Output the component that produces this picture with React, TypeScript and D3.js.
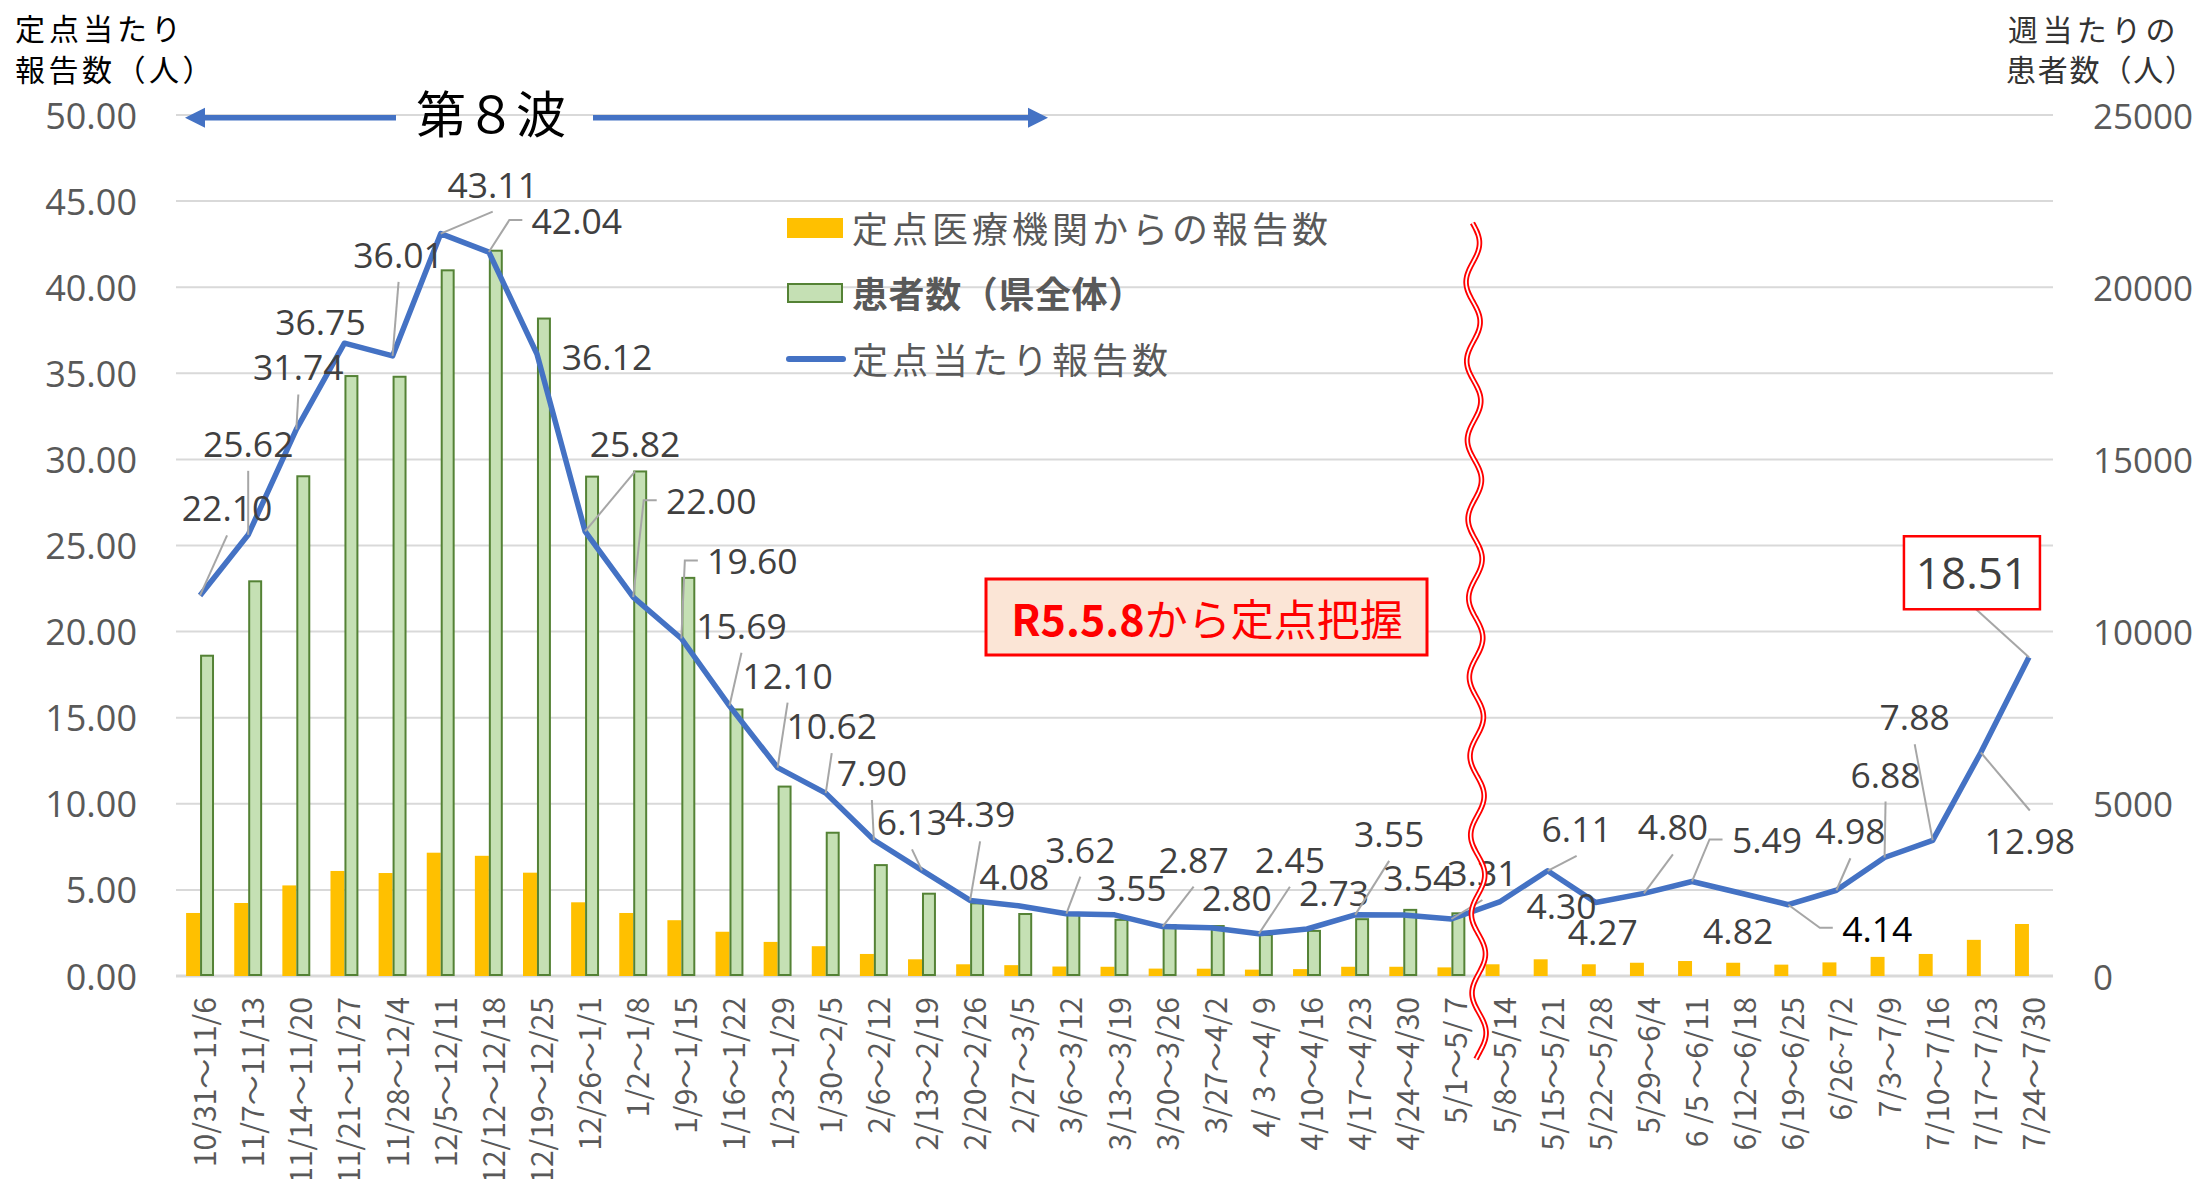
import * as d3 from "d3";

// weekly periods (R4.10.31 - R5.7.30)
const categories = [
  "10/31～11/6", "11/7～11/13", "11/14～11/20", "11/21～11/27", "11/28～12/4",
  "12/5～12/11", "12/12～12/18", "12/19～12/25", "12/26～1/1", "1/2～1/8",
  "1/9～1/15", "1/16～1/22", "1/23～1/29", "1/30～2/5", "2/6～2/12",
  "2/13～2/19", "2/20～2/26", "2/27～3/5", "3/6～3/12", "3/13～3/19",
  "3/20～3/26", "3/27～4/2", "4/ 3 ～4/ 9", "4/10～4/16", "4/17～4/23",
  "4/24～4/30", "5/1～5/ 7", "5/8～5/14", "5/15～5/21", "5/22～5/28",
  "5/29～6/4", "6 /5 ～6/11", "6/12～6/18", "6/19～6/25", "6/26~7/2",
  "7/3～7/9", "7/10～7/16", "7/17～7/23", "7/24～7/30",
];

// 定点当たり報告数 (left axis)
const perSentinel = [
  22.10, 25.62, 31.74, 36.75, 36.01, 43.11, 42.04, 36.12, 25.82, 22.00,
  19.60, 15.69, 12.10, 10.62, 7.90, 6.13, 4.39, 4.08, 3.62, 3.55,
  2.87, 2.80, 2.45, 2.73, 3.55, 3.54, 3.31, 4.30, 6.11, 4.27,
  4.80, 5.49, 4.82, 4.14, 4.98, 6.88, 7.88, 12.98, 18.51,
];

// 定点医療機関からの報告数 (right axis)
const sentinelReports = [
  1830, 2120, 2630, 3050, 2990, 3580, 3490, 3000, 2140, 1830,
  1620, 1285, 990, 865, 640, 485, 340, 315, 275, 268,
  215, 212, 185, 200, 268, 268, 250, 340, 485, 340,
  385, 435, 385, 330, 395, 555, 640, 1050, 1510,
];

// 患者数（県全体） (right axis) - only until 5/7
const patientsAll = [
  9300, 11460, 14510, 17420, 17400, 20490, 21060, 19090, 14500, 14650,
  11560, 7740, 5500, 4160, 3220, 2390, 2110, 1800, 1770, 1630,
  1480, 1450, 1190, 1310, 1650, 1920, 1820,
];

const leftTicks = d3.range(0, 50.01, 5);
const rightTicks = d3.range(0, 25001, 5000);

// data label placement relative to its point: [dx, dy, leader]
// leader: b = to label bottom, t = to label top, l = elbow to label left, "" = none
const labelOffsets: [number, number, string][] = [
  [27, -88, "b"], [0, -92, "b"], [2, -63, "b"], [-24, -22, ""], [6, -102, "b"],
  [52, -50, "b"], [88, -32, "l"], [70, 2, ""], [50, -88, "b"], [78, -97, "l"],
  [71, -78, "l"], [12, -81, "b"], [10, -93, "b"], [6, -68, "b"], [-2, -68, "b"],
  [-10, -49, "b"], [10, -87, "b"], [-4, -30, ""], [14, -65, "b"], [17, -28, ""],
  [31, -68, "b"], [26, -31, ""], [31, -75, "b"], [27, -37, ""], [34, -82, "b"],
  [15, -38, ""], [31, -47, "b"], [62, 3, ""], [29, -43, "b"], [7, 29, ""],
  [29, -67, "b"], [75, -42, "l"], [-2, 37, ""], [89, 23, "l"], [14, -60, "b"],
  [1, -84, "b"], [-18, -124, "b"], [49, 88, "t"], [-57, -85, "box"],
];

const W = 2197;
const H = 1179;
const plot = { left: 176, right: 2053, top: 115, bottom: 976 };

const NUM_FONT = "'Open Sans', 'Noto Sans', sans-serif";
const JP_FONT = "'Noto Sans CJK JP', 'Noto Sans', sans-serif";

export default function App() {
  const x = d3.scaleBand<string>()
    .domain(categories)
    .range([plot.left, plot.right])
    .paddingInner(0.42)
    .paddingOuter(0.21);
  const x1 = d3.scaleBand<string>().domain(["reports", "patients"]).range([0, x.bandwidth()]);
  const yL = d3.scaleLinear().domain([0, 50]).range([plot.bottom, plot.top]);
  const yR = d3.scaleLinear().domain([0, 25000]).range([plot.bottom, plot.top]);
  const cx = (c: string) => (x(c) as number) + x.bandwidth() / 2;

  const linePath = d3.line<number>()
    .x((_, i) => cx(categories[i]))
    .y((d) => yL(d))(perSentinel) as string;

  const fmt = d3.format(".2f");

  // wavy break line between 5/1 and 5/8
  const breakX = (cx(categories[26]) + cx(categories[27])) / 2;
  const waveTop = 223;
  const waveBottom = 1060;
  const wave = d3.line<number>()
    .x((y) => breakX - 3 + ((y - waveTop) / (waveBottom - waveTop)) * 7 + 7 * Math.sin(((y - waveTop) / 79) * 2 * Math.PI))
    .y((y) => y)
    .curve(d3.curveBasis)(d3.range(waveTop, waveBottom + 1, 4)) as string;

  const labelW = (s: string) => s.replace(".", "").length * 20 + 9;

  return (
    <svg width={W} height={H} style={{ position: "absolute", left: 0, top: 0, display: "block", background: "#fff" }}>
      {/* gridlines + axes */}
      {leftTicks.map((t) => (
        <line key={"g" + t} x1={plot.left} x2={plot.right} y1={yL(t)} y2={yL(t)}
          stroke="#D9D9D9" strokeWidth={t === 0 ? 3 : 2} />
      ))}
      {leftTicks.map((t) => (
        <text key={"l" + t} x={137} y={yL(t)} textAnchor="end" dominantBaseline="central"
          fontFamily={NUM_FONT} fontSize={36} fill="#595959">{fmt(t)}</text>
      ))}
      {rightTicks.map((t) => (
        <text key={"r" + t} x={2093} y={yR(t)} textAnchor="start" dominantBaseline="central"
          fontFamily={NUM_FONT} fontSize={35} fill="#595959">{t}</text>
      ))}

      {/* axis titles */}
      <g fontFamily={JP_FONT} fontSize={30} fill="#000">
        <text x={15} y={27} dominantBaseline="central" letterSpacing={4}>定点当たり</text>
        <text x={15} y={68} dominantBaseline="central" letterSpacing={3.5}>報告数（人）</text>
      </g>
      <g fontFamily={JP_FONT} fontSize={30} fill="#333">
        <text x={2008} y={28} dominantBaseline="central" letterSpacing={4.4}>週当たりの</text>
        <text x={2006} y={68} dominantBaseline="central" letterSpacing={1.8}>患者数（人）</text>
      </g>

      {/* x labels */}
      {categories.map((c) => (
        <text key={"x" + c} transform={`translate(${cx(c) + 3},997) rotate(-90)`} textAnchor="end"
          dominantBaseline="central" fontFamily={JP_FONT} fontSize={30} fill="#595959">{c}</text>
      ))}

      {/* bars */}
      {sentinelReports.map((v, i) => (
        <rect key={"o" + i} x={(x(categories[i]) as number) + (x1("reports") as number)} y={yR(v)}
          width={x1.bandwidth()} height={yR(0) - yR(v)} fill="#FFC000" />
      ))}
      {patientsAll.map((v, i) => (
        <rect key={"p" + i} x={(x(categories[i]) as number) + (x1("patients") as number) + 1} y={yR(v)}
          width={x1.bandwidth() - 2} height={yR(0) - yR(v) - 1} fill="#C5E0B4" stroke="#548235" strokeWidth={2} />
      ))}

      {/* line */}
      <path d={linePath} fill="none" stroke="#4472C4" strokeWidth={5.5} strokeLinejoin="round" />

      {/* data labels */}
      {perSentinel.map((v, i) => {
        const px = cx(categories[i]);
        const py = yL(v);
        const [dx, dy, lead] = labelOffsets[i];
        const lx = px + dx;
        const ly = py + dy;
        const s = fmt(v);
        const isBox = lead === "box";
        const hw = labelW(s) / 2;
        let leader: string | null = null;
        if (lead === "b") leader = `M${px},${py}L${lx},${ly + 28}`;
        if (lead === "t") leader = `M${px},${py}L${lx},${ly - 30}`;
        if (lead === "box") leader = `M${px},${py}L${lx + 3},${ly + 36}`;
        if (lead === "l") leader = `M${px},${py}L${lx - hw - 23},${ly}L${lx - hw - 10},${ly}`;
        return (
          <g key={"d" + i}>
            {leader && <path d={leader} fill="none" stroke="#A6A6A6" strokeWidth={2} />}
            {isBox && (
              <rect x={lx - 68} y={ly - 36} width={136} height={73} fill="#fff" stroke="#FF0000" strokeWidth={2.5} />
            )}
            <text x={lx} y={ly} textAnchor="middle" dominantBaseline="central"
              fontFamily={NUM_FONT} fontSize={isBox ? 44 : 35.5}
              fill={i === 33 ? "#000" : "#404040"}>{s}</text>
          </g>
        );
      })}

      {/* legend */}
      <g fontFamily={JP_FONT} fontSize={36} fill="#595959">
        <rect x={787} y={218} width={56} height={20} fill="#FFC000" />
        <text x={852} y={227} dominantBaseline="central" letterSpacing={4}>定点医療機関からの報告数</text>
        <rect x={788} y={284} width={54} height={18} fill="#C5E0B4" stroke="#548235" strokeWidth={2} />
        <text x={852} y={292} dominantBaseline="central" fontWeight="bold" letterSpacing={0.6}>患者数（県全体）</text>
        <line x1={789} x2={843} y1={359} y2={359} stroke="#4472C4" strokeWidth={6} strokeLinecap="round" />
        <text x={852} y={358} dominantBaseline="central" letterSpacing={4}>定点当たり報告数</text>
      </g>

      {/* 第8波 annotation */}
      <g fill="#4472C4" stroke="#4472C4">
        <line x1={203} x2={396} y1={117.7} y2={117.7} strokeWidth={5.5} />
        <path d="M185,117.7L205,107.7L205,127.7Z" stroke="none" />
        <line x1={593} x2={1030} y1={117.7} y2={117.7} strokeWidth={5.5} />
        <path d="M1048,117.7L1028,107.7L1028,127.7Z" stroke="none" />
      </g>
      <text x={491} y={111} textAnchor="middle" dominantBaseline="central" fontFamily={JP_FONT}
        fontSize={50} fill="#000">第８波</text>

      {/* R5.5.8 note */}
      <rect x={986} y={579} width={441} height={76} fill="#FBE5D6" stroke="#FF0000" strokeWidth={3} />
      <text x={1207} y={617} textAnchor="middle" dominantBaseline="central" fontFamily={JP_FONT}
        fontSize={43} fill="#FF0000">
        <tspan fontWeight="bold">R5.5.8</tspan>から定点把握
      </text>

      {/* break line */}
      <path d={wave} fill="none" stroke="#FF0000" strokeWidth={5.5} />
      <path d={wave} fill="none" stroke="#fff" strokeWidth={1.8} />
    </svg>
  );
}
